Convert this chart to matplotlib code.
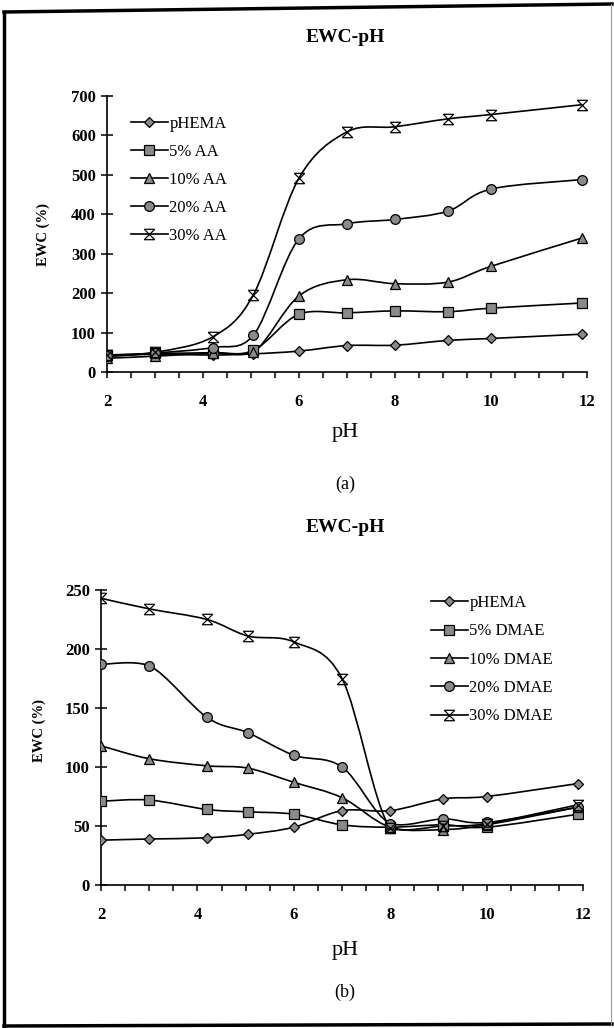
import numpy as np
import matplotlib
matplotlib.use("Agg")
import matplotlib.pyplot as plt
from matplotlib.path import Path
from matplotlib.patches import PathPatch
from matplotlib.lines import Line2D

# pH values shared by both panels
ph = [2, 3, 4.2, 5.05, 6, 7, 8, 9.1, 10, 11.9]

# panel (a): acrylic acid
aa_labels = ['pHEMA', '5% AA', '10% AA', '20% AA', '30% AA']
aa_phema = [40, 45, 43, 46, 53, 67, 68, 80, 85, 96]
aa_5 = [43, 47, 49, 55, 147, 150, 155, 153, 162, 175]
aa_10 = [35, 40, 48, 50, 193, 234, 224, 228, 268, 340]
aa_20 = [40, 48, 62, 93, 338, 376, 387, 408, 464, 488]
aa_30 = [42, 50, 89, 196, 492, 609, 622, 642, 653, 678]

# panel (b): DMAE
dm_labels = ['pHEMA', '5% DMAE', '10% DMAE', '20% DMAE', '30% DMAE']
dm_phema = [38, 39, 40, 43, 49, 63, 63, 73, 75, 86]
dm_5 = [71, 72, 64, 62, 60, 51, 49, 51, 49, 60]
dm_10 = [118, 107, 101, 99, 87, 74, 49, 47, 51, 66]
dm_20 = [187, 186, 142, 129, 110, 100, 52, 56, 53, 66]
dm_30 = [243, 234, 225, 211, 206, 175, 48, 50, 52, 68]

W, H = 614, 1028
SERIF = ['Liberation Serif', 'DejaVu Serif']

star = Path([(-1, -1), (1, 1), (-1, 1), (1, -1), (-1, 1), (1, 1), (-1, -1), (1, -1)],
            [Path.MOVETO, Path.LINETO] * 4)
markers = ['D', 's', '^', 'o', star]
msizes = [5, 7, 7, 7, 7.5]


def fx(px):
    return px / W


def fy(py):
    return 1 - py / H


def smooth_path(x, y, tol):
    # Excel-like smoothed line: cubic Bezier through the points,
    # control points kept from overshooting too far
    pts = np.column_stack([x, y]).astype(float)
    n = len(pts)
    verts = [pts[0]]
    codes = [Path.MOVETO]
    for i in range(n - 1):
        p0 = pts[max(i - 1, 0)]
        p1 = pts[i]
        p2 = pts[i + 1]
        p3 = pts[min(i + 2, n - 1)]
        c1 = p1 + (p2 - p0) / 6
        c2 = p2 - (p3 - p1) / 6
        lo = min(p1[1], p2[1]) - tol
        hi = max(p1[1], p2[1]) + tol
        c1[1] = np.clip(c1[1], lo, hi)
        c2[1] = np.clip(c2[1], lo, hi)
        verts += [c1, c2, p2]
        codes += [Path.CURVE4] * 3
    return Path(verts, codes)


def panel(ax, series, labels, ymax, ystep, leg_xy, spacing):
    handles = []
    for i, ys in enumerate(series):
        ax.add_patch(PathPatch(smooth_path(ph, ys, 0.015 * ymax), fill=False, lw=1.2,
                               edgecolor='black', zorder=2))
        ax.plot(ph, ys, ls='none', marker=markers[i], ms=msizes[i],
                mfc='#8a8a8a', mec='black', mew=0.9, zorder=3)
        handles.append(Line2D([], [], color='black', lw=1.2, marker=markers[i],
                              ms=msizes[i], mfc='#8a8a8a', mec='black', mew=0.9))
    ax.set_xlim(2, 12)
    ax.set_ylim(0, ymax)
    ax.set_xticks(np.arange(2, 13, 2))
    ax.set_xticks(np.arange(2, 12.01, 0.5), minor=True)
    ax.set_yticks(np.arange(0, ymax + 1, ystep))
    for s in ['top', 'right']:
        ax.spines[s].set_visible(False)
    for s in ['left', 'bottom']:
        ax.spines[s].set_linewidth(1.2)
    ax.tick_params(axis='x', which='both', direction='out', length=4, width=1.1, pad=12)
    ax.tick_params(axis='y', direction='inout', length=8, width=1.1, pad=4)
    for lab in ax.get_xticklabels() + ax.get_yticklabels():
        lab.set_fontfamily(SERIF)
        lab.set_fontweight('bold')
        lab.set_fontsize(12)
    fig.legend(handles, labels, loc='upper left', bbox_to_anchor=leg_xy,
               frameon=False, prop={'family': SERIF, 'size': 12},
               handlelength=2.2, handletextpad=0.1, labelspacing=spacing,
               borderpad=0, borderaxespad=0, numpoints=1)


fig = plt.figure(figsize=(W / 100, H / 100), dpi=100)

ax1 = fig.add_axes([fx(107), fy(372), fx(587) - fx(107), fy(96) - fy(372)])
panel(ax1, [aa_phema, aa_5, aa_10, aa_20, aa_30], aa_labels, 700, 100,
      (fx(131), fy(116)), 0.72)

ax2 = fig.add_axes([fx(101), fy(885), fx(583) - fx(101), fy(590) - fy(885)])
panel(ax2, [dm_phema, dm_5, dm_10, dm_20, dm_30], dm_labels, 250, 50,
      (fx(431), fy(595)), 0.74)

fig.text(fx(345), fy(37), 'EWC-pH', ha='center', va='center', fontsize=14,
         fontweight='bold', family=SERIF)
fig.text(fx(43), fy(235), 'EWC (%)', ha='center', va='center', rotation=90,
         fontsize=10.5, fontweight='bold', family=SERIF)
fig.text(fx(345), fy(432), 'pH', ha='center', va='center', fontsize=16, family=SERIF)
fig.text(fx(345), fy(484), '(a)', ha='center', va='center', fontsize=13, family=SERIF)

fig.text(fx(345), fy(528), 'EWC-pH', ha='center', va='center', fontsize=14,
         fontweight='bold', family=SERIF)
fig.text(fx(39), fy(730), 'EWC (%)', ha='center', va='center', rotation=90,
         fontsize=10.5, fontweight='bold', family=SERIF)
fig.text(fx(345), fy(950), 'pH', ha='center', va='center', fontsize=16, family=SERIF)
fig.text(fx(345), fy(992), '(b)', ha='center', va='center', fontsize=13, family=SERIF)

# scanned page border
fig.add_artist(Line2D([fx(4), fx(4)], [fy(12), fy(1026)], color='black', lw=2.5,
                      transform=fig.transFigure))
fig.add_artist(Line2D([fx(4), fx(612)], [fy(12), fy(4)], color='black', lw=2.5,
                      transform=fig.transFigure))
fig.add_artist(Line2D([fx(4), fx(612)], [fy(1026), fy(1024)], color='black', lw=2.5,
                      transform=fig.transFigure))
fig.add_artist(Line2D([fx(611), fx(611)], [fy(4), fy(1024)], color='#999999', lw=0.8,
                      transform=fig.transFigure))

fig.savefig('out.png', dpi=100)
